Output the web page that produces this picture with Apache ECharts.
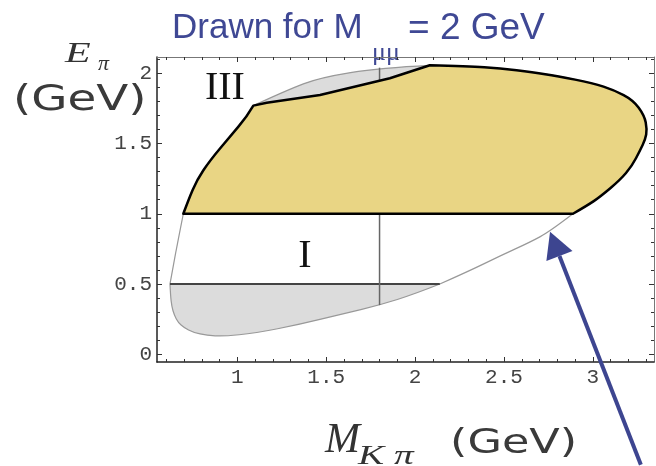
<!DOCTYPE html>
<html>
<head>
<meta charset="utf-8">
<script src="https://cdn.jsdelivr.net/npm/echarts@6/dist/echarts.min.js"></script>
<style>
html, body { margin: 0; padding: 0; background: #fff; }
#chart { width: 656px; height: 466px; }
</style>
</head>
<body>
<div id="chart"></div>
<script>
// boundary of the allowed region for M_mumu = 2 GeV as [M_Kpi, E_pi]
var leftArc = [[0.696, 1.0], [0.667, 0.815], [0.638, 0.62], [0.621, 0.5]]
var bottomArc = [[0.621, 0.5], [0.624, 0.42], [0.631, 0.34], [0.645, 0.28], [0.667, 0.227], [0.70, 0.19],
  [0.751, 0.155], [0.83, 0.135], [0.92, 0.128], [1.10, 0.15], [1.353, 0.213], [1.60, 0.29], [1.80, 0.35],
  [2.0, 0.43], [2.139, 0.5]]
var lowerRightArc = [[2.139, 0.5], [2.30, 0.59], [2.478, 0.70], [2.65, 0.80], [2.759, 0.875], [2.888, 1.0]]
var rightArc = [[2.888, 1.0], [2.97, 1.06], [3.04, 1.12], [3.153, 1.24], [3.22, 1.34], [3.265, 1.45],
  [3.295, 1.53], [3.305, 1.60], [3.29, 1.70], [3.226, 1.81], [3.12, 1.88], [3.0, 1.93], [2.8, 1.98],
  [2.663, 2.007], [2.478, 2.035], [2.30, 2.05], [2.083, 2.057]]
var topArc = [[2.083, 2.057], [1.808, 2.04], [1.465, 1.97], [1.278, 1.88], [1.09, 1.77]]
var cutTop = [[2.083, 2.057], [1.858, 1.965], [1.465, 1.845], [1.165, 1.79], [1.09, 1.77]]
var upperLeftArc = [[1.09, 1.77], [1.053, 1.69], [0.959, 1.55], [0.846, 1.38], [0.772, 1.24], [0.725, 1.10], [0.696, 1.0]]

// cut lines
var cutLow = [[0.621, 0.5], [2.139, 0.5]]
var cutMass = [[1.8, 0.35], [1.8, 2.04]]

// region names and the arrow
var regionNames = ['III', 'I']
var regionPos = [[0.93, 1.89], [1.38, 0.695]]
var arrowFrom = [3.27, -0.787]
var arrowTo = [2.759, 0.872]

// axes
var xMin = 0.548, xMax = 3.344
var yMin = -0.055, yMax = 2.116
var xTicks = [1, 1.5, 2, 2.5, 3]
var yTicks = [0, 0.5, 1, 1.5, 2]

function minorTicks(lo, hi, major) {
  var out = []
  for (var i = Math.ceil(lo * 10); i <= Math.floor(hi * 10); i++) {
    var v = i / 10
    if (major.indexOf(v) < 0) out.push(v)
  }
  return out
}
var xMinor = minorTicks(xMin, xMax, xTicks)
var yMinor = minorTicks(yMin, yMax, yTicks)

// pieces: [points, curved?]
var outline = [[bottomArc, true], [lowerRightArc, true], [rightArc, true], [topArc, true], [upperLeftArc, true], [leftArc, true]]
var regionI = [[cutLow, false], [lowerRightArc, true], [[[2.888, 1.0], [0.696, 1.0]], false], [leftArc, true]]
var regionIII = [[[[0.696, 1.0], [2.888, 1.0]], false], [rightArc, true], [cutTop, false], [upperLeftArc, true]]

// svg path through the pieces; curved pieces use their inner points as quadratic control points
function pathOf(pieces, api, close) {
  var d = ''
  pieces.forEach(function (piece, k) {
    var p = piece[0].map(function (q) { return api.coord(q) })
    d += (k === 0 ? 'M' : 'L') + p[0][0] + ' ' + p[0][1]
    if (piece[1] && p.length > 2) {
      for (var i = 1; i < p.length - 1; i++) {
        var end = i < p.length - 2 ? [(p[i][0] + p[i + 1][0]) / 2, (p[i][1] + p[i + 1][1]) / 2] : p[i + 1]
        d += 'Q' + p[i][0] + ' ' + p[i][1] + ' ' + end[0] + ' ' + end[1]
      }
    } else {
      for (var j = 1; j < p.length; j++) d += 'L' + p[j][0] + ' ' + p[j][1]
    }
  })
  return d + (close ? 'Z' : '')
}

function shape(pieces, style, z, close) {
  return {
    type: 'custom', coordinateSystem: 'cartesian2d', data: [pieces[0][0][0]], z: z, silent: true,
    renderItem: function (params, api) {
      return { type: 'path', shape: { pathData: pathOf(pieces, api, close) }, style: style }
    }
  }
}

var monoLabel = { fontFamily: 'Liberation Mono', fontSize: 21, color: '#444' }

function axis(pos, min, max, values, len, line, label) {
  var a = {
    type: 'value', position: pos, min: min, max: max,
    axisLine: { show: !!line, onZero: false, lineStyle: line || {} },
    axisTick: { show: true, inside: true, length: len, customValues: values, lineStyle: { color: '#333', width: 1 } },
    axisLabel: { show: false },
    splitLine: { show: false }
  }
  if (label) a.axisLabel = Object.assign({ show: true, customValues: values, margin: 5 }, monoLabel)
  return a
}

var chart = echarts.init(document.getElementById('chart'))
var option = {
  animation: false,
  grid: { left: 157, top: 57, right: 2, bottom: 104 },
  xAxis: [
    axis('bottom', xMin, xMax, xTicks, 5, { color: '#222', width: 1.5 }, true),
    axis('bottom', xMin, xMax, xMinor, 3),
    axis('top', xMin, xMax, xTicks, 5, { color: '#777', width: 1 }),
    axis('top', xMin, xMax, xMinor, 3)
  ],
  yAxis: [
    axis('left', yMin, yMax, yTicks, 5, { color: '#222', width: 1.5 }, true),
    axis('left', yMin, yMax, yMinor, 3),
    axis('right', yMin, yMax, yTicks, 5, { color: '#777', width: 1 }),
    axis('right', yMin, yMax, yMinor, 3)
  ],
  series: [
    shape(outline, { fill: '#dcdcdc' }, 2, true),
    shape(regionI, { fill: '#ffffff' }, 3, true),
    shape(outline, { fill: null, stroke: '#999', lineWidth: 1.2 }, 4, true),
    shape([[cutLow, false]], { fill: null, stroke: '#444', lineWidth: 2 }, 5, false),
    shape([[cutMass, false]], { fill: null, stroke: '#666', lineWidth: 1.5 }, 5, false),
    shape(regionIII, { fill: '#e9d584', stroke: '#000', lineWidth: 2.5, lineJoin: 'round' }, 6, true),
    {
      type: 'custom', coordinateSystem: 'cartesian2d', data: regionPos, z: 7, silent: true,
      renderItem: function (params, api) {
        var p = api.coord([api.value(0), api.value(1)])
        return {
          type: 'text', x: p[0], y: p[1],
          style: { text: regionNames[params.dataIndex], font: '40px "Liberation Serif"', fill: '#111', align: 'center', verticalAlign: 'middle' }
        }
      }
    },
    {
      type: 'custom', coordinateSystem: 'cartesian2d', data: [arrowTo], z: 8, silent: true,
      renderItem: function (params, api) {
        var a = api.coord(arrowFrom), b = api.coord(arrowTo)
        var dx = a[0] - b[0], dy = a[1] - b[1], d = Math.sqrt(dx * dx + dy * dy)
        var ux = dx / d, uy = dy / d, L = 26, W = 14
        var base = [b[0] + ux * L, b[1] + uy * L]
        return {
          type: 'group', children: [
            { type: 'line', shape: { x1: a[0], y1: a[1], x2: base[0], y2: base[1] }, style: { stroke: '#3d4590', lineWidth: 4 } },
            { type: 'polygon', shape: { points: [b, [base[0] - uy * W, base[1] + ux * W], [base[0] + uy * W, base[1] - ux * W]] }, style: { fill: '#3d4590' } }
          ]
        }
      }
    }
  ],
  graphic: [
    { type: 'text', left: 172, top: 11, style: { text: 'Drawn for M', font: '35px "Liberation Sans"', fill: '#3f4894' } },
    { type: 'text', left: 372, top: 40, style: { text: 'μμ', font: '26px "Liberation Serif"', fill: '#3f4894' } },
    { type: 'text', left: 408, top: 10, style: { text: '= 2 GeV', font: '37px "Liberation Sans"', fill: '#3f4894' } },
    { type: 'text', left: 65, top: 39, scaleX: 1.4, style: { text: 'E', font: 'italic 30px "Liberation Serif"', fill: '#333' } },
    { type: 'text', left: 98, top: 53, style: { text: 'π', font: 'italic 22px "Liberation Serif"', fill: '#333' } },
    { type: 'text', left: 13, top: 83, scaleX: 1.3, style: { text: '(GeV)', font: '36px "DejaVu Sans"', fill: '#3a3a3a' } },
    { type: 'text', left: 325, top: 420, style: { text: 'M', font: 'italic 42px "Liberation Serif"', fill: '#333' } },
    { type: 'text', left: 358, top: 443, scaleX: 1.4, style: { text: 'K π', font: 'italic 28px "Liberation Serif"', fill: '#333' } },
    { type: 'text', left: 450, top: 428, scaleX: 1.35, style: { text: '(GeV)', font: '33px "DejaVu Sans"', fill: '#3a3a3a' } }
  ]
}
chart.setOption(option)
</script>
</body>
</html>
